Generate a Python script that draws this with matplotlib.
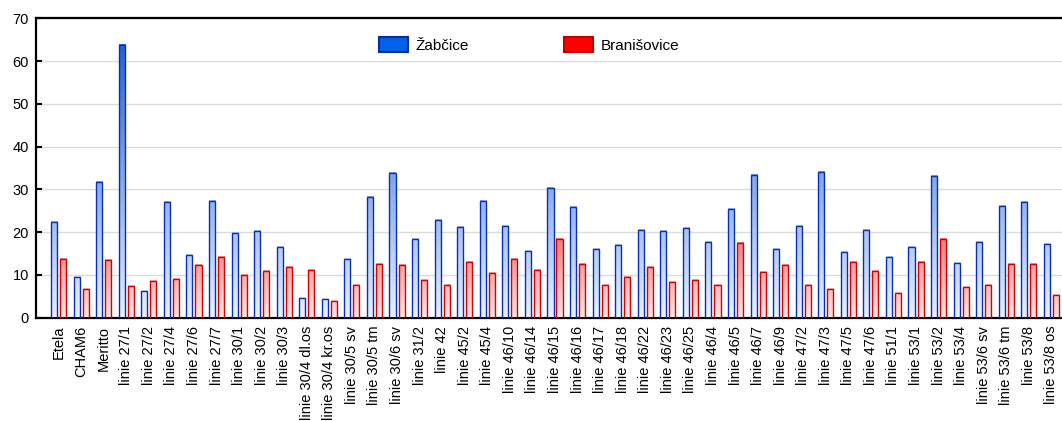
import numpy as np
import matplotlib
matplotlib.use('Agg')
import matplotlib.pyplot as plt
from matplotlib.colors import LinearSegmentedColormap
from matplotlib.patches import Patch

plt.rcParams['font.family'] = ['Liberation Sans', 'DejaVu Sans']

odrudy = ['Etela', 'CHAM6', 'Meritto',
          'linie 27/1', 'linie 27/2', 'linie 27/4', 'linie 27/6', 'linie 27/7',
          'linie 30/1', 'linie 30/2', 'linie 30/3', 'linie 30/4 dl.os', 'linie 30/4 kr.os',
          'linie 30/5 sv', 'linie 30/5 tm', 'linie 30/6 sv', 'linie 31/2', 'linie 42',
          'linie 45/2', 'linie 45/4', 'linie 46/10', 'linie 46/14', 'linie 46/15',
          'linie 46/16', 'linie 46/17', 'linie 46/18', 'linie 46/22', 'linie 46/23',
          'linie 46/25', 'linie 46/4', 'linie 46/5', 'linie 46/7', 'linie 46/9',
          'linie 47/2', 'linie 47/3', 'linie 47/5', 'linie 47/6', 'linie 51/1',
          'linie 53/1', 'linie 53/2', 'linie 53/4', 'linie 53/6 sv', 'linie 53/6 tm',
          'linie 53/8', 'linie 53/8 os']

zabcice = [22.4, 9.5, 31.8, 63.8, 6.1, 27.0, 14.6, 27.3, 19.7, 20.2, 16.5, 4.6, 4.3,
           13.8, 28.1, 33.7, 18.4, 22.8, 21.1, 27.2, 21.3, 15.6, 30.2, 25.9, 16.0,
           16.9, 20.5, 20.2, 20.9, 17.7, 25.5, 33.4, 16.1, 21.5, 34.1, 15.3, 20.4,
           14.1, 16.5, 33.2, 12.8, 17.7, 26.2, 27.0, 17.1]

branisovice = [13.6, 6.7, 13.5, 7.3, 8.5, 9.1, 12.3, 14.2, 9.9, 10.9, 11.7, 11.0, 3.9,
               7.5, 12.4, 12.2, 8.8, 7.5, 12.9, 10.5, 13.7, 11.2, 18.3, 12.4, 7.5,
               9.5, 11.9, 8.3, 8.8, 7.5, 17.4, 10.7, 12.3, 7.6, 6.7, 13.1, 10.9,
               5.7, 13.1, 18.4, 7.2, 7.5, 12.4, 12.4, 5.3]

x = np.arange(len(odrudy))
w = 0.27
off = 0.2

modra = LinearSegmentedColormap.from_list('modra', ['#e8f0fc', '#1a5ddc'])
cervena = LinearSegmentedColormap.from_list('cervena', ['#fde4e4', '#e41818'])

fig = plt.figure(figsize=(10.62, 4.21), dpi=100)
ax = fig.add_axes([36 / 1062, 1 - 317.5 / 421, 1038 / 1062, 299.2 / 421])


def sloupce(pozice, hodnoty, cmap, vmax, hrana):
    bars = ax.bar(pozice, hodnoty, w, facecolor='none', edgecolor=hrana,
                  linewidth=1.0, zorder=4)
    # svisly gradient uvnitr kazdeho sloupce
    for r, h in zip(bars, hodnoty):
        x0 = r.get_x()
        ax.imshow(np.linspace(0, h, 80)[:, None], extent=(x0, x0 + w, 0, h),
                  origin='lower', cmap=cmap, vmin=0, vmax=vmax,
                  aspect='auto', zorder=3, interpolation='bilinear')


sloupce(x - off, zabcice, modra, 66, '#0a2fb4')
sloupce(x + off, branisovice, cervena, 36, '#d40000')

ax.set_xlim(-1, 45)
ax.set_ylim(0, 70)
ax.set_yticks(np.arange(0, 71, 10))

ax.set_xticks(x)
ax.set_xticklabels(odrudy, rotation=90, fontsize=10.5)
ax.tick_params(axis='x', which='major', length=0, pad=6)
ax.set_xticks(x[::2], minor=True)
ax.tick_params(axis='x', which='minor', direction='in', length=4, width=1.5,
               top=True, bottom=True)
ax.tick_params(axis='y', direction='in', length=4, width=1.5, labelsize=10.5, pad=5)

ax.grid(axis='y', color='#dcdcdc', linewidth=1.0, zorder=0)
ax.grid(axis='x', which='minor', color='#dcdcdc', linewidth=1.0, zorder=0)
ax.set_axisbelow(True)

for s in ['left', 'bottom', 'top']:
    ax.spines[s].set_linewidth(1.6)
ax.spines['right'].set_visible(False)

handles = [Patch(facecolor='#0062e6', edgecolor='#0a2a9e', linewidth=1.5),
           Patch(facecolor='#ff0000', edgecolor='#c00000', linewidth=1.5)]
fig.legend(handles, ['Žabčice', 'Branišovice'], loc='upper left',
           bbox_to_anchor=(379 / 1062, 1 - 37 / 421), ncol=2, frameon=False,
           fontsize=11, handlelength=1.9, handleheight=1.1, handletextpad=0.5,
           columnspacing=6.2, borderpad=0, borderaxespad=0)

fig.savefig('out.png', dpi=100)
